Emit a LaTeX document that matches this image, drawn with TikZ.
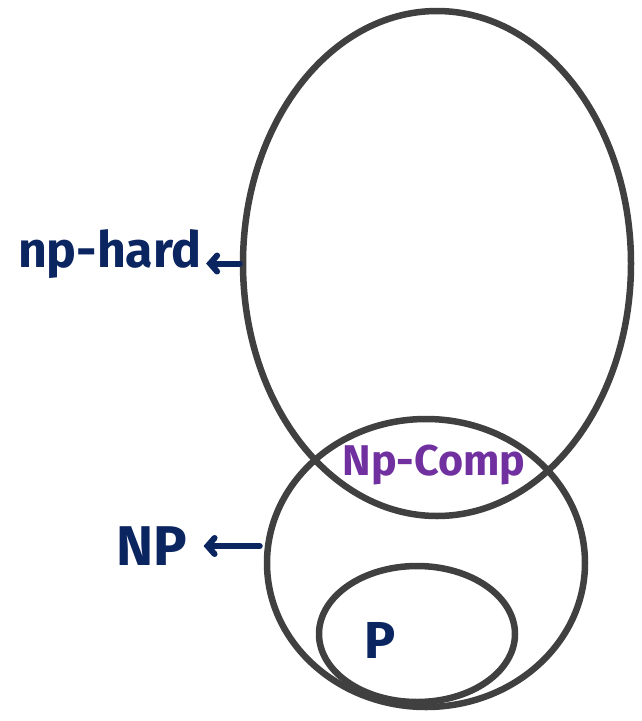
\documentclass[tikz,border=0pt]{standalone}
\usepackage{fontspec}
\setmainfont{Fira Sans}
\usetikzlibrary{shapes.geometric,arrows.meta}
\definecolor{navy}{HTML}{0B2560}
\definecolor{grape}{HTML}{7030A0}
\definecolor{ring}{HTML}{404040}
\tikzset{
  setring/.style={draw=ring, line width=6.5pt, ellipse, inner sep=0pt},
  hand/.style={text=navy, inner sep=0pt, anchor=center},
  pointer/.style={draw=navy, line width=6pt, line cap=round, -{Straight Barb[length=7pt,width=16pt,line cap=round]}}
}
\begin{document}
\begin{tikzpicture}[x=1pt,y=-1pt]
\useasboundingbox (0,0) rectangle (641,721);
\node[setring, minimum width=388pt, minimum height=505pt] (hard) at (437,263.5) {};
\node[setring, minimum width=318pt, minimum height=288pt] (np) at (426,563) {};
\node[setring, minimum width=196pt, minimum height=136pt] (p) at (417,634) {};
\node[hand, font=\fontsize{50}{50}\selectfont\bfseries] (thard) at (110,254) {np-hard};
\node[hand, font=\fontsize{56}{56}\selectfont\bfseries] (tnp) at (152,546) {NP};
\node[hand, text=grape, font=\fontsize{43}{43}\selectfont\bfseries] (tcomp) at (434,465) {Np-Comp};
\node[hand, font=\fontsize{52}{52}\selectfont\bfseries] (tp) at (380,640) {P};
\draw[pointer] (hard.west) -- ([xshift=4pt]hard.west -| thard.east);
\draw[pointer] ([xshift=-4pt]np.west |- tnp.east) -- ([xshift=16pt]tnp.east);
\end{tikzpicture}
\end{document}
